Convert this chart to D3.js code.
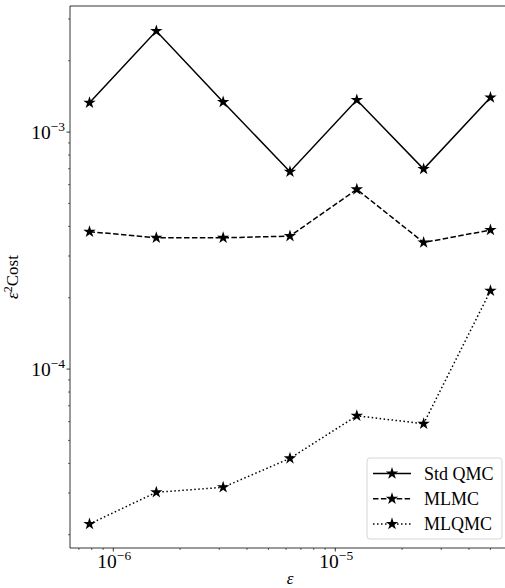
<!DOCTYPE html>
<html>
<head>
<meta charset="utf-8">
<script src="https://cdn.jsdelivr.net/npm/d3@7"></script>
<style>
  body { margin: 0; background: #fff; }
  svg text { font-family: "Liberation Serif", "DejaVu Serif", serif; fill: #000; }
</style>
</head>
<body>
<svg id="chart" width="505" height="588"></svg>
<script>
// tolerance values (x) and e^2 * cost for each method
const epsValues = [7.8125e-7, 1.5625e-6, 3.125e-6, 6.25e-6, 1.25e-5, 2.5e-5, 5e-5];
const stdQmc = [1.33e-3, 2.67e-3, 1.34e-3, 6.80e-4, 1.365e-3, 6.98e-4, 1.40e-3];
const mlmc = [3.80e-4, 3.58e-4, 3.58e-4, 3.64e-4, 5.73e-4, 3.42e-4, 3.86e-4];
const mlqmc = [2.22e-5, 3.02e-5, 3.17e-5, 4.20e-5, 6.35e-5, 5.88e-5, 2.14e-4];
const seriesNames = ["Std QMC", "MLMC", "MLQMC"];
const xMajorExp = [-6, -5];
const yMajorExp = [-4, -3];

const svg = d3.select("#chart");
const margins = {left: 70, top: 6, right: 510, bottom: 548};

const x = d3.scaleLog()
    .domain([Math.pow(10, -6.195), Math.pow(10, -4.213)])
    .range([margins.left, margins.right]);
const y = d3.scaleLog()
    .domain([Math.pow(10, -4.755), Math.pow(10, -2.468)])
    .range([margins.bottom, margins.top]);

// minor ticks from the decades around the domain
function minorTicks(scale) {
    let out = [];
    let [a, b] = scale.domain();
    for (let e = Math.floor(Math.log10(a)); e <= Math.ceil(Math.log10(b)); e++) {
        for (let m = 2; m <= 9; m++) {
            let v = m * Math.pow(10, e);
            if (v >= a && v <= b) out.push(v);
        }
    }
    return out;
}

// spines
svg.append("line")
    .attr("x1", margins.left).attr("x2", margins.right)
    .attr("y1", margins.top).attr("y2", margins.top)
    .attr("stroke", "#000").attr("stroke-width", 0.8);
svg.append("line")
    .attr("x1", margins.left).attr("x2", margins.right)
    .attr("y1", margins.bottom).attr("y2", margins.bottom)
    .attr("stroke", "#000").attr("stroke-width", 0.8);
svg.append("line")
    .attr("x1", margins.left).attr("x2", margins.left)
    .attr("y1", margins.top).attr("y2", margins.bottom)
    .attr("stroke", "#000").attr("stroke-width", 0.8);

// x ticks
minorTicks(x).forEach(v => {
    svg.append("line")
        .attr("x1", x(v)).attr("x2", x(v))
        .attr("y1", margins.bottom).attr("y2", margins.bottom + 2)
        .attr("stroke", "#000").attr("stroke-width", 0.6);
});
xMajorExp.forEach(e => {
    let px = x(Math.pow(10, e));
    svg.append("line")
        .attr("x1", px).attr("x2", px)
        .attr("y1", margins.bottom).attr("y2", margins.bottom + 3.5)
        .attr("stroke", "#000").attr("stroke-width", 0.8);
    let t = svg.append("text")
        .attr("x", px + 1).attr("y", margins.bottom + 20)
        .attr("text-anchor", "middle")
        .style("font-size", "19.5px");
    t.append("tspan").text("10");
    t.append("tspan").attr("dy", -8).style("font-size", "13.5px").text("\u2212" + Math.abs(e));
});

// y ticks
minorTicks(y).forEach(v => {
    svg.append("line")
        .attr("x1", margins.left - 2).attr("x2", margins.left)
        .attr("y1", y(v)).attr("y2", y(v))
        .attr("stroke", "#000").attr("stroke-width", 0.6);
});
yMajorExp.forEach(e => {
    let py = y(Math.pow(10, e));
    svg.append("line")
        .attr("x1", margins.left - 3.5).attr("x2", margins.left)
        .attr("y1", py).attr("y2", py)
        .attr("stroke", "#000").attr("stroke-width", 0.8);
    let t = svg.append("text")
        .attr("x", margins.left - 5).attr("y", py + 7)
        .attr("text-anchor", "end")
        .style("font-size", "19.5px");
    t.append("tspan").text("10");
    t.append("tspan").attr("dy", -8).style("font-size", "13.5px").text("\u2212" + Math.abs(e));
});

// axis labels
svg.append("text")
    .attr("x", 290).attr("y", 584)
    .attr("text-anchor", "middle")
    .style("font-size", "17px").style("font-style", "italic")
    .text("\u03b5");

let yl = svg.append("text")
    .attr("transform", "translate(18," + (margins.top + margins.bottom) / 2 + ") rotate(-90)")
    .attr("text-anchor", "middle")
    .style("font-size", "17px");
yl.append("tspan").style("font-style", "italic").text("\u03b5");
yl.append("tspan").attr("dy", -6).style("font-size", "12px").text("2");
yl.append("tspan").attr("dy", 6).text("Cost");

// series
const seriesData = [stdQmc, mlmc, mlqmc];
const dashes = [null, "5.5,2.4", "1.5,2.5"];
const star = d3.symbol().type(d3.symbolStar).size(48);
const line = d3.line().x(d => x(d[0])).y(d => y(d[1]));

seriesData.forEach((vals, i) => {
    let pts = epsValues.map((e, j) => [e, vals[j]]);
    svg.append("path")
        .datum(pts)
        .attr("d", line)
        .attr("fill", "none")
        .attr("stroke", "#000")
        .attr("stroke-width", 1.5)
        .attr("stroke-dasharray", dashes[i]);
    svg.selectAll(".star" + i)
        .data(pts)
        .enter().append("path")
        .attr("class", "star" + i)
        .attr("d", star)
        .attr("transform", d => "translate(" + x(d[0]) + "," + y(d[1]) + ")")
        .attr("fill", "#000");
});

// legend
let lg = svg.append("g");
lg.append("rect")
    .attr("x", 367).attr("y", 458)
    .attr("width", 135).attr("height", 81)
    .attr("rx", 3)
    .attr("fill", "#fff").attr("fill-opacity", 0.8)
    .attr("stroke", "#ccc").attr("stroke-width", 0.8);
seriesNames.forEach((name, i) => {
    let ly = 473.5 + i * 25.2;
    lg.append("line")
        .attr("x1", 373).attr("x2", 411)
        .attr("y1", ly).attr("y2", ly)
        .attr("stroke", "#000").attr("stroke-width", 1.5)
        .attr("stroke-dasharray", dashes[i]);
    lg.append("path")
        .attr("d", star)
        .attr("transform", "translate(392," + ly + ")")
        .attr("fill", "#000");
    lg.append("text")
        .attr("x", 424).attr("y", ly + 6)
        .style("font-size", "18px")
        .text(name);
});
</script>
</body>
</html>
